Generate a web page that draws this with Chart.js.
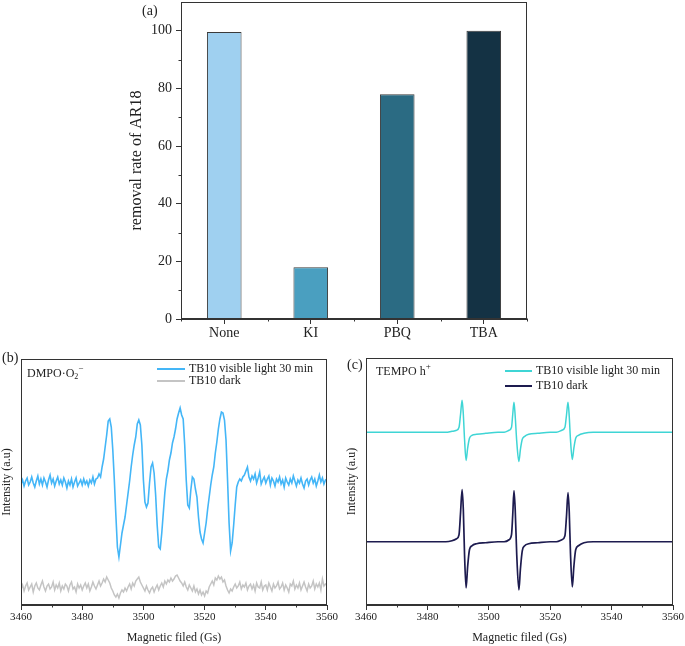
<!DOCTYPE html>
<html>
<head>
<meta charset="utf-8">
<title>Scavenger tests and EPR spectra</title>
<script src="https://cdn.jsdelivr.net/npm/chart.js@4.4.1/dist/chart.umd.min.js"></script>
<style>
  html, body { margin: 0; padding: 0; background: #fff; }
  body { width: 685px; height: 646px; position: relative; overflow: hidden; }
  canvas { position: absolute; }
</style>
</head>
<body>
<canvas id="removal" width="440" height="345" style="left:125px;top:0"></canvas>
<canvas id="dmpo" width="340" height="296" style="left:0;top:350px"></canvas>
<canvas id="tempo" width="340" height="296" style="left:345px;top:350px"></canvas>
<script>
'use strict';

// (a) scavenger experiment
const scavengers = ['None', 'KI', 'PBQ', 'TBA'];
const removalRate = [99.6, 18, 78, 100];
const scavengerColors = ['#9fd0f0', '#4a9fc0', '#2b6b83', '#143244'];

// (b) DMPO-O2- spectra, sampled every 0.5 Gs from 3460 Gs
const fieldStart = 3460;
const fieldStep = 0.5;
const dmpoLight = [
  121, 125, 119, 124, 127, 120, 123, 128, 122, 118,
  124, 129, 121, 126, 120, 127, 123, 118, 125, 130,
  122, 126, 119, 124, 128, 121, 125, 120, 127, 123,
  117, 124, 120, 126, 118, 123, 127, 119, 122, 125,
  120, 126, 121, 124, 119, 125, 122, 128, 121, 126,
  127, 131, 128, 138, 146, 158, 170, 184, 186, 178,
  155, 125, 90, 58, 48, 60, 72, 80, 88, 100,
  112, 124, 138, 150, 160, 168, 181, 185, 180, 160,
  125, 103, 98, 102, 122, 138, 142, 132, 110, 80,
  58, 56, 72, 92, 112, 126, 134, 145, 152, 162,
  168, 176, 186, 192, 197, 190, 186, 160, 125, 100,
  97, 115, 128, 126, 116, 108, 88, 73, 66, 62,
  72, 82, 96, 108, 120, 130, 138, 152, 163, 176,
  186, 193, 192, 185, 165, 125, 82, 54, 62, 80,
  100, 118, 123, 126, 124, 128, 130, 134, 138, 128,
  124, 129, 126, 131, 122, 127, 133, 121, 125, 128,
  122, 126, 129, 120, 127, 124, 119, 126, 123, 128,
  121, 125, 118, 127, 123, 120, 126, 122, 129, 124,
  119, 125, 122, 127, 121, 117, 124, 126, 120, 125,
  128, 122, 126, 119, 124, 130, 123, 127, 121, 125,
  126
];
const dmpoDark = [
  16, 20, 14, 19, 22, 15, 18, 21, 13, 19,
  22, 17, 15, 20, 24, 18, 14, 19, 21, 16,
  18, 23, 15, 20, 17, 22, 14, 19, 16, 21,
  19, 14, 20, 23, 16, 18, 13, 21, 17, 20,
  15, 19, 22, 17, 21, 14, 18, 23, 19, 16,
  20, 24, 19, 22, 26, 23, 28, 25, 22, 17,
  14, 10, 8, 11, 7, 12, 15, 13, 17, 14,
  18, 21, 16, 22, 19, 24, 26, 28, 23, 20,
  17, 14, 19, 15, 12, 16, 18, 13, 17, 20,
  15, 19, 22, 18, 24, 21, 25, 23, 27, 24,
  26, 29, 30, 27, 24, 22, 19, 23, 18, 15,
  20, 17, 14, 19, 13, 16, 11, 15, 10, 13,
  9, 14, 12, 18, 21, 24, 20, 27, 25, 29,
  26, 28, 23, 25, 19, 15, 12, 16, 14, 18,
  21, 17, 19, 23, 16, 20, 18, 22, 15, 19,
  21, 16, 20, 14, 22, 18, 17, 23, 15, 19,
  20, 15, 22, 18, 14, 21, 17, 19, 23, 16,
  18, 22, 15, 20, 17, 13, 21, 19, 24, 16,
  20, 17, 22, 15, 19, 23, 18, 14, 21, 17,
  19, 24, 16, 21, 18, 22, 15, 26, 19, 21,
  20
];

// (c) TEMPO-h+ spectra
const tempoField = [
  3460, 3486, 3488, 3489.5, 3490.3, 3490.8, 3491.3, 3491.7, 3492.1, 3492.6,
  3493.1, 3493.7, 3494.5, 3496, 3499, 3503, 3505, 3506.6, 3507.4, 3507.8,
  3508.2, 3508.6, 3509.1, 3509.8, 3510.3, 3510.9, 3511.7, 3513, 3516, 3520,
  3522, 3523.8, 3524.8, 3525.3, 3525.8, 3526.2, 3526.6, 3527.2, 3527.7, 3528.3,
  3529.2, 3531, 3534, 3560
];
const tempoLight = [
  172, 172, 173, 174, 177, 190, 204, 190, 165, 144,
  156, 166, 169, 170, 171, 172, 172, 174, 177, 190,
  202, 188, 163, 143, 155, 165, 168, 170, 171, 172,
  172, 174, 177, 189, 202, 188, 165, 145, 156, 166,
  169, 171, 172, 172
];
const tempoDark = [
  63, 63, 64, 66, 70, 92, 115, 95, 50, 17,
  38, 55, 59, 61, 62, 63, 63, 65, 70, 90,
  114, 95, 50, 15, 36, 54, 59, 61, 62, 63,
  63, 65, 69, 88, 112, 93, 52, 18, 38, 55,
  59, 62, 63, 63
];

Chart.defaults.font.family = '"Liberation Serif", "Times New Roman", serif';
Chart.defaults.color = '#222';

const ink = '#333';

// box around the plot, minor ticks, panel letter, notes and legend
const framePlugin = {
  id: 'frame',
  afterDraw(chart, args, opts) {
    const { ctx, chartArea: a, scales } = chart;
    ctx.save();
    ctx.strokeStyle = ink;
    ctx.lineWidth = 1;
    const l = Math.round(a.left) + 0.5, t = Math.round(a.top) + 0.5;
    const r = Math.round(a.right) - 0.5, b = Math.round(a.bottom) - 0.5;
    ctx.strokeRect(l, t, r - l, b - t);

    ctx.beginPath();
    if (opts.minorX) {
      const { from, to, step } = opts.minorX;
      for (let v = from; v <= to + 1e-9; v += step) {
        const px = Math.round(scales.x.getPixelForValue(v)) + 0.5;
        ctx.moveTo(px, b);
        ctx.lineTo(px, b + 3);
      }
    }
    if (opts.minorY) {
      const { from, to, step } = opts.minorY;
      for (let v = from; v <= to + 1e-9; v += step) {
        const py = Math.round(scales.y.getPixelForValue(v)) + 0.5;
        ctx.moveTo(l, py);
        ctx.lineTo(l - 3, py);
      }
    }
    ctx.stroke();

    ctx.fillStyle = '#222';
    ctx.textBaseline = 'middle';
    ctx.textAlign = 'left';
    if (opts.panel) {
      ctx.font = '14px "Liberation Serif"';
      ctx.fillText(opts.panel.text, opts.panel.x, opts.panel.y);
    }
    if (opts.note) {
      let x = opts.note.x;
      opts.note.runs.forEach(run => {
        ctx.font = (run.size || 12) + 'px "Liberation Serif"';
        ctx.fillText(run.text, x, opts.note.y + (run.dy || 0));
        x += ctx.measureText(run.text).width + (run.gap || 0);
      });
    }
    if (opts.legend) {
      const { x, y, lineLen, rowGap } = opts.legend;
      ctx.font = '12px "Liberation Serif"';
      chart.data.datasets.forEach((ds, i) => {
        const yy = y + i * rowGap;
        ctx.strokeStyle = ds.borderColor;
        ctx.lineWidth = 2;
        ctx.beginPath();
        ctx.moveTo(x, yy);
        ctx.lineTo(x + lineLen, yy);
        ctx.stroke();
        ctx.fillText(ds.label, x + lineLen + 4, yy);
      });
    }
    ctx.restore();
  }
};

new Chart(document.getElementById('removal'), {
  type: 'bar',
  data: {
    labels: scavengers,
    datasets: [{
      data: removalRate,
      backgroundColor: scavengerColors,
      borderColor: '#3b3b3b',
      borderWidth: 1,
      barPercentage: 0.4,
      categoryPercentage: 1
    }]
  },
  options: {
    responsive: false,
    animation: false,
    layout: { padding: { left: 0, top: 2, right: 38, bottom: 0 } },
    plugins: {
      legend: { display: false },
      tooltip: { enabled: false },
      frame: {
        minorX: { from: -0.5, to: 3.5, step: 1 },
        minorY: { from: 10, to: 90, step: 20 },
        panel: { text: '(a)', x: 17, y: 11 }
      }
    },
    scales: {
      x: {
        grid: { offset: false, drawOnChartArea: false, tickLength: 5, tickColor: ink },
        border: { color: ink },
        ticks: { font: { size: 14 }, padding: 1 },
        afterFit: s => { s.height = 26; s.paddingLeft = 0; s.paddingRight = 0; }
      },
      y: {
        min: 0,
        max: 110,
        ticks: { stepSize: 20, font: { size: 14 }, padding: 4 },
        afterBuildTicks: s => { s.ticks = s.ticks.filter(t => t.value % 20 === 0); },
        grid: { drawOnChartArea: false, tickLength: 5, tickColor: ink },
        border: { color: ink },
        title: { display: true, text: 'removal rate of AR18', font: { size: 16 }, padding: { top: 2, bottom: 0 } },
        afterFit: s => { s.width = 56; s.paddingTop = 0; s.paddingBottom = 0; }
      }
    }
  },
  plugins: [framePlugin]
});

function spectrumScales() {
  return {
    x: {
      type: 'linear',
      min: 3460,
      max: 3560,
      ticks: { stepSize: 20, font: { size: 11 }, padding: 1, callback: v => String(v) },
      grid: { drawOnChartArea: false, tickLength: 5, tickColor: ink },
      border: { color: ink },
      title: { display: true, text: 'Magnetic filed (Gs)', font: { size: 12 }, padding: { top: 0, bottom: 1 } },
      afterFit: s => { s.height = 41; s.paddingLeft = 0; s.paddingRight = 0; }
    },
    y: {
      min: 0,
      max: 246,
      ticks: { display: false },
      grid: { display: false },
      border: { color: ink },
      title: { display: true, text: 'Intensity (a.u)', font: { size: 12 }, padding: { top: 0, bottom: 0 } },
      afterFit: s => { s.width = 21; s.paddingTop = 0; s.paddingBottom = 0; }
    }
  };
}

new Chart(document.getElementById('dmpo'), {
  type: 'line',
  data: {
    datasets: [
      {
        label: 'TB10 visible light 30 min',
        data: dmpoLight.map((v, i) => ({ x: fieldStart + i * fieldStep, y: v })),
        borderColor: '#44b6f7',
        borderWidth: 1.6,
        pointRadius: 0,
        tension: 0
      },
      {
        label: 'TB10 dark',
        data: dmpoDark.map((v, i) => ({ x: fieldStart + i * fieldStep, y: v })),
        borderColor: '#c4c4c4',
        borderWidth: 1.5,
        pointRadius: 0,
        tension: 0
      }
    ]
  },
  options: {
    responsive: false,
    animation: false,
    layout: { padding: { left: 0, top: 9, right: 13, bottom: 0 } },
    plugins: {
      legend: { display: false },
      tooltip: { enabled: false },
      frame: {
        minorX: { from: 3470, to: 3550, step: 20 },
        panel: { text: '(b)', x: 2, y: 8 },
        note: { x: 27, y: 24, runs: [
          { text: 'DMPO·O' },
          { text: '2', size: 8, dy: 3 },
          { text: '−', size: 9, dy: -5 }
        ] },
        legend: { x: 157, y: 19, lineLen: 28, rowGap: 12 }
      }
    },
    scales: spectrumScales()
  },
  plugins: [framePlugin]
});

new Chart(document.getElementById('tempo'), {
  type: 'line',
  data: {
    datasets: [
      {
        label: 'TB10 visible light 30 min',
        data: tempoLight.map((v, i) => ({ x: tempoField[i], y: v })),
        borderColor: '#3fd5d5',
        borderWidth: 1.5,
        pointRadius: 0,
        cubicInterpolationMode: 'monotone'
      },
      {
        label: 'TB10 dark',
        data: tempoDark.map((v, i) => ({ x: tempoField[i], y: v })),
        borderColor: '#1d1b4f',
        borderWidth: 1.7,
        pointRadius: 0,
        cubicInterpolationMode: 'monotone'
      }
    ]
  },
  options: {
    responsive: false,
    animation: false,
    layout: { padding: { left: 0, top: 8, right: 12, bottom: 0 } },
    plugins: {
      legend: { display: false },
      tooltip: { enabled: false },
      frame: {
        panel: { text: '(c)', x: 2, y: 15 },
        minorX: { from: 3470, to: 3550, step: 20 },
        note: { x: 31, y: 22, runs: [
          { text: 'TEMPO h' },
          { text: '+', size: 9, dy: -5 }
        ] },
        legend: { x: 160, y: 21, lineLen: 27, rowGap: 15 }
      }
    },
    scales: spectrumScales()
  },
  plugins: [framePlugin]
});
</script>
</body>
</html>
